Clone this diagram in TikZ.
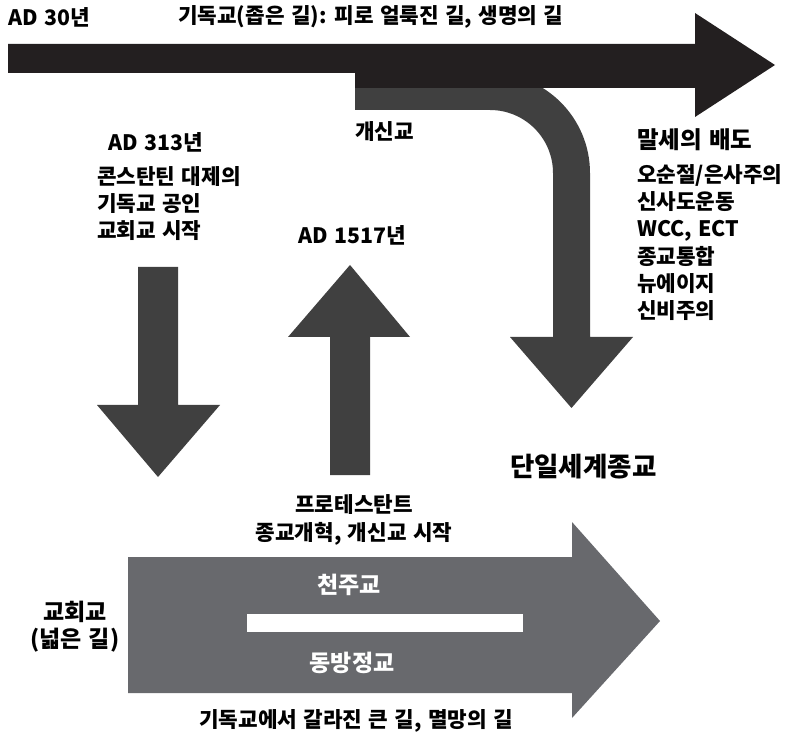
\documentclass[tikz,border=0pt]{standalone}
\usepackage{fontspec}
\setmainfont{Noto Sans CJK KR}[WordSpace=1.3]
\definecolor{roadblack}{HTML}{231F20}
\definecolor{roaddark}{HTML}{404040}
\definecolor{roadgray}{HTML}{68696D}
\tikzset{
  txt/.style={font=\bfseries\fontsize{21.3}{27.3}\selectfont, inner sep=0pt, align=left},
  bigtxt/.style={txt, font=\bfseries\fontsize{23.5}{27}\selectfont},
  hugetxt/.style={txt, font=\bfseries\fontsize{26.5}{30}\selectfont},
  wtxt/.style={txt, font=\bfseries\fontsize{23}{27}\selectfont, text=white}
}
\begin{document}
\begin{tikzpicture}[x=1pt,y=-1pt]
\useasboundingbox (0,0) rectangle (793,735);

% Protestant road bending down (behind the main road)
\fill[roaddark] (355,73) -- (490,73) arc[start angle=-90, end angle=0, radius=100]
  -- (590,337) -- (633,337) -- (571.5,408) -- (510,337) -- (553,337) -- (553,173)
  arc[start angle=0, end angle=-90, radius=63] -- (355,110) -- cycle;

% Narrow road
\fill[roadblack] (8,44) -- (695,44) -- (695,13) -- (775,65) -- (695,117) -- (695,88)
  -- (355,88) -- (355,73) -- (8,73) -- cycle;

% AD 313 down, AD 1517 up
\fill[roaddark] (138,267) -- (178,267) -- (178,405) -- (220,405) -- (158,477) -- (97,405) -- (138,405) -- cycle;
\fill[roaddark] (330,475) -- (370,475) -- (370,337) -- (410,337) -- (350,265) -- (288,337) -- (330,337) -- cycle;

% Broad road
\fill[roadgray] (128,557) -- (572,557) -- (572,522) -- (660,621) -- (572,718) -- (572,693) -- (128,693) -- cycle;
\fill[white] (247,614) rectangle (523,632);

% Labels
\node[txt, anchor=west] (ad30) at (8,17) {AD 30년};
\node[txt, anchor=west] (narrow) at (178,17) {기독교(좁은 길): 피로 얼룩진 길, 생명의 길};
\node[txt, anchor=west] (ad313) at (108,142) {AD 313년};
\node[txt, anchor=north west] (const) at (97,166) {콘스탄틴 대제의\\기독교 공인\\교회교 시작};
\node[txt, anchor=west] (prot) at (355,132) {개신교};
\node[txt, anchor=west] (ad1517) at (298,235) {AD 1517년};
\node[bigtxt, anchor=west] (apost) at (637,140) {말세의 배도};
\node[txt, anchor=north west] (apostlist) at (637,164) {오순절/은사주의\\신사도운동\\WCC, ECT\\종교통합\\뉴에이지\\신비주의};
\node[hugetxt, anchor=west] (oneworld) at (510,467) {단일세계종교};
\node[txt, align=center] (reform) at (354,520) {프로테스탄트\\종교개혁, 개신교 시작};
\node[wtxt] (catholic) at (349,585) {천주교};
\node[wtxt] (orthodox) at (352,663) {동방정교};
\node[wtxt, text=black, align=center] (broad) at (75,627) {교회교\\(넓은 길)};
\node[txt] (destr) at (356,721) {기독교에서 갈라진 큰 길, 멸망의 길};
\end{tikzpicture}
\end{document}
